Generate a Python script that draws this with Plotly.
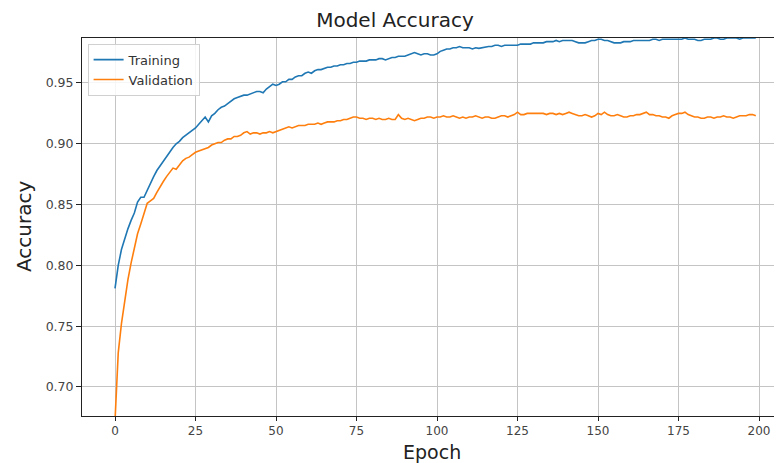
import plotly.graph_objects as go

epochs = list(range(200))

training = [
    0.781, 0.800, 0.813, 0.822, 0.830, 0.837, 0.843, 0.852, 0.856, 0.856,
    0.862, 0.868, 0.873, 0.878, 0.882, 0.886, 0.889, 0.893, 0.897, 0.900,
    0.902, 0.905, 0.907, 0.909, 0.911, 0.913, 0.916, 0.919, 0.922, 0.918,
    0.923, 0.925, 0.928, 0.930, 0.931, 0.933, 0.935, 0.937, 0.938, 0.939,
    0.940, 0.940, 0.941, 0.942, 0.943, 0.943, 0.942, 0.945, 0.947, 0.949,
    0.948, 0.949, 0.951, 0.951, 0.953, 0.953, 0.955, 0.956, 0.956, 0.958,
    0.959, 0.958, 0.960, 0.961, 0.961, 0.962, 0.963, 0.963, 0.964, 0.964,
    0.965, 0.965, 0.966, 0.966, 0.967, 0.967, 0.968, 0.968, 0.968, 0.969,
    0.969, 0.969, 0.970, 0.970, 0.969, 0.970, 0.971, 0.971, 0.972, 0.972,
    0.972, 0.973, 0.974, 0.975, 0.974, 0.973, 0.974, 0.974, 0.973, 0.973,
    0.974, 0.976, 0.977, 0.978, 0.978, 0.979, 0.979, 0.980, 0.979, 0.979,
    0.979, 0.978, 0.979, 0.9785, 0.979, 0.980, 0.980, 0.980, 0.981, 0.981,
    0.980, 0.981, 0.981, 0.981, 0.981, 0.981, 0.982, 0.982, 0.982, 0.982,
    0.983, 0.983, 0.983, 0.983, 0.984, 0.984, 0.984, 0.985, 0.984, 0.985,
    0.985, 0.985, 0.985, 0.984, 0.983, 0.983, 0.983, 0.984, 0.985, 0.985,
    0.986, 0.986, 0.985, 0.985, 0.984, 0.983, 0.983, 0.983, 0.984, 0.984,
    0.984, 0.985, 0.985, 0.985, 0.985, 0.985, 0.985, 0.986, 0.986, 0.985,
    0.986, 0.986, 0.986, 0.986, 0.986, 0.986, 0.986, 0.987, 0.986, 0.986,
    0.986, 0.985, 0.985, 0.986, 0.986, 0.986, 0.987, 0.987, 0.986, 0.986,
    0.987, 0.987, 0.987, 0.987, 0.986, 0.987, 0.987, 0.987, 0.987, 0.987,
]

validation = [
    0.672, 0.728, 0.752, 0.772, 0.788, 0.802, 0.814, 0.826, 0.834, 0.842,
    0.851, 0.853, 0.855, 0.860, 0.865, 0.869, 0.873, 0.877, 0.880, 0.879,
    0.883, 0.886, 0.888, 0.889, 0.891, 0.893, 0.894, 0.895, 0.896, 0.897,
    0.899, 0.900, 0.901, 0.901, 0.903, 0.904, 0.904, 0.906, 0.906, 0.907,
    0.909, 0.910, 0.908, 0.909, 0.909, 0.908, 0.909, 0.909, 0.910, 0.909,
    0.910, 0.911, 0.912, 0.913, 0.914, 0.913, 0.914, 0.915, 0.915, 0.915,
    0.916, 0.916, 0.916, 0.917, 0.916, 0.917, 0.918, 0.918, 0.918, 0.919,
    0.919, 0.920, 0.920, 0.921, 0.922, 0.922, 0.921, 0.921, 0.920, 0.921,
    0.921, 0.920, 0.921, 0.920, 0.920, 0.921, 0.920, 0.920, 0.924, 0.921,
    0.920, 0.921, 0.920, 0.919, 0.920, 0.921, 0.921, 0.922, 0.922, 0.921,
    0.922, 0.922, 0.923, 0.922, 0.922, 0.923, 0.922, 0.921, 0.922, 0.921,
    0.922, 0.922, 0.923, 0.922, 0.921, 0.922, 0.922, 0.921, 0.921, 0.922,
    0.923, 0.923, 0.922, 0.923, 0.924, 0.926, 0.924, 0.924, 0.925, 0.925,
    0.925, 0.925, 0.925, 0.925, 0.924, 0.925, 0.925, 0.924, 0.925, 0.924,
    0.925, 0.926, 0.925, 0.924, 0.923, 0.923, 0.924, 0.923, 0.922, 0.923,
    0.925, 0.924, 0.926, 0.924, 0.923, 0.923, 0.924, 0.923, 0.922, 0.922,
    0.923, 0.923, 0.924, 0.924, 0.925, 0.926, 0.924, 0.924, 0.923, 0.923,
    0.922, 0.922, 0.921, 0.923, 0.924, 0.925, 0.925, 0.926, 0.924, 0.923,
    0.922, 0.922, 0.921, 0.921, 0.922, 0.922, 0.921, 0.922, 0.922, 0.923,
    0.922, 0.922, 0.921, 0.922, 0.923, 0.923, 0.923, 0.924, 0.924, 0.923,
]

x_ticks = [0, 25, 50, 75, 100, 125, 150, 175, 200]
y_ticks = [0.70, 0.75, 0.80, 0.85, 0.90, 0.95]
y_tick_labels = ["0.70", "0.75", "0.80", "0.85", "0.90", "0.95"]

FONT = "DejaVu Sans"

# The page body has an 8px margin, so the figure is 8px smaller than the window.
W, H = 774, 455

fig = go.Figure()
fig.add_trace(go.Scatter(x=epochs, y=training, mode="lines", name="Training",
                         line=dict(color="#1f77b4", width=1.6)))
fig.add_trace(go.Scatter(x=epochs, y=validation, mode="lines", name="Validation",
                         line=dict(color="#ff7f0e", width=1.6)))

fig.update_layout(
    width=W, height=H,
    margin=dict(l=74, r=0, t=30, b=47),
    paper_bgcolor="white", plot_bgcolor="white",
    font=dict(family=FONT, color="#333333"),
    title=dict(text="Model Accuracy", x=0.5, xanchor="center",
               y=1 - 12 / H, yanchor="middle",
               font=dict(family=FONT, size=20, color="#222222")),
    showlegend=True,
    legend=dict(x=0.008, y=0.985, xanchor="left", yanchor="top",
                bgcolor="rgba(255,255,255,0.85)", bordercolor="#d0d0d0",
                borderwidth=1, font=dict(family=FONT, size=13, color="#333333"),
                itemwidth=30, tracegroupgap=0),
    xaxis=dict(range=[-10.25, 207.14], tickvals=x_ticks,
               showgrid=True, gridcolor="#c4c4c4", gridwidth=1,
               zeroline=False, showline=True, linecolor="#222222", linewidth=1,
               mirror=True, ticks="outside", ticklen=4, tickcolor="#222222",
               tickfont=dict(family=FONT, size=12, color="#444444")),
    yaxis=dict(range=[0.6761, 0.9870], tickvals=y_ticks, ticktext=y_tick_labels,
               showgrid=True, gridcolor="#c4c4c4", gridwidth=1,
               zeroline=False, showline=True, linecolor="#222222", linewidth=1,
               mirror=False, ticks="outside", ticklen=5, tickcolor="#222222",
               tickfont=dict(family=FONT, size=12.5, color="#444444")),
    annotations=[
        dict(text="Epoch", xref="paper", yref="paper", x=0.5, y=0,
             xanchor="center", yanchor="middle", yshift=-36, showarrow=False,
             font=dict(family=FONT, size=19, color="#222222")),
        dict(text="Accuracy", xref="paper", yref="paper", x=0, y=0.5,
             xanchor="center", yanchor="middle", xshift=-58, textangle=-90,
             showarrow=False, font=dict(family=FONT, size=20, color="#222222")),
    ],
)

fig.write_html("out.html")
